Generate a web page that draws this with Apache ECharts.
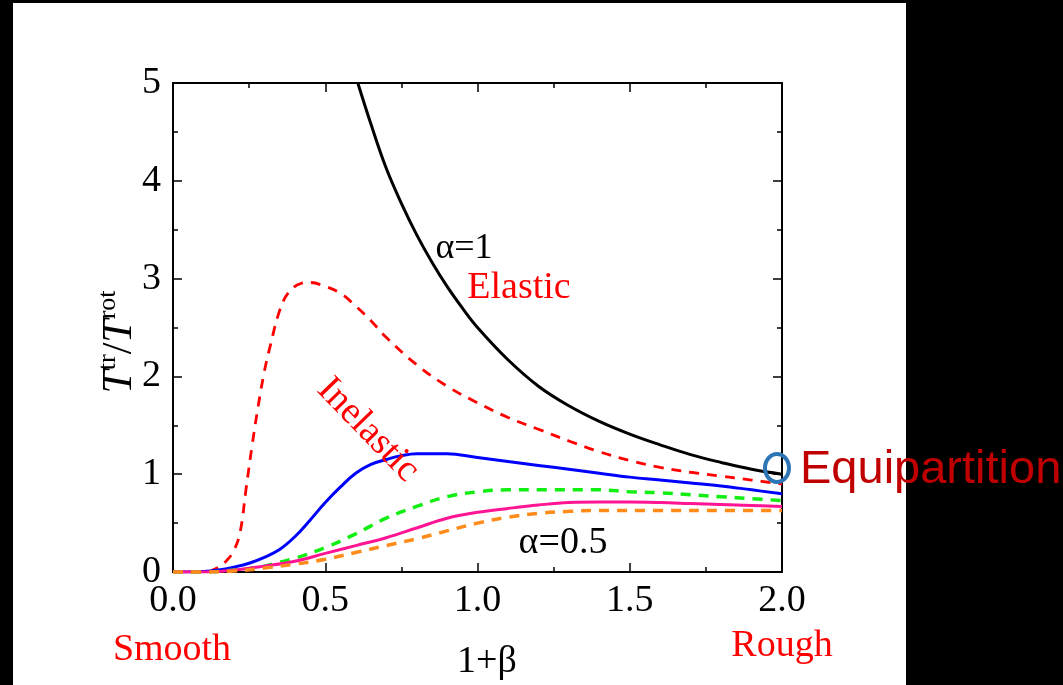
<!DOCTYPE html>
<html>
<head>
<meta charset="utf-8">
<script src="https://cdn.jsdelivr.net/npm/echarts@6/dist/echarts.min.js"></script>
<style>
html,body{margin:0;padding:0;background:#000;}
#chart{width:1063px;height:685px;}
</style>
</head>
<body>
<div id="chart"></div>
<script>
// ---- data ----
const xTicks = [0, 0.5, 1.0, 1.5, 2.0];
const yTicks = [0, 1, 2, 3, 4, 5];

const blackX = [0.607, 0.65, 0.70, 0.75, 0.80, 0.85, 0.90, 0.95, 1.00, 1.10, 1.20, 1.30, 1.40, 1.50, 1.60, 1.70, 1.80, 1.90, 2.00];
const blackY = [5.00, 4.58, 4.13, 3.77, 3.45, 3.17, 2.92, 2.70, 2.50, 2.17, 1.90, 1.70, 1.54, 1.41, 1.30, 1.20, 1.12, 1.05, 1.00];

const redX = [0.00, 0.10, 0.15, 0.18, 0.20, 0.22, 0.24, 0.26, 0.28, 0.30, 0.32, 0.35, 0.38, 0.42, 0.45, 0.50, 0.55, 0.60, 0.65, 0.70, 0.80, 0.90, 1.00, 1.10, 1.20, 1.30, 1.40, 1.50, 1.60, 1.70, 1.80, 1.90, 2.00];
const redY = [0.00, 0.00, 0.05, 0.13, 0.22, 0.40, 0.85, 1.30, 1.70, 2.05, 2.32, 2.67, 2.86, 2.95, 2.96, 2.92, 2.85, 2.72, 2.57, 2.40, 2.12, 1.90, 1.73, 1.58, 1.46, 1.34, 1.23, 1.14, 1.07, 1.02, 0.98, 0.94, 0.90];

const blueX = [0.00, 0.10, 0.15, 0.20, 0.25, 0.30, 0.35, 0.40, 0.45, 0.50, 0.55, 0.60, 0.65, 0.70, 0.75, 0.80, 0.90, 1.00, 1.10, 1.20, 1.30, 1.40, 1.50, 1.60, 1.70, 1.80, 1.90, 2.00];
const blueY = [0.00, 0.005, 0.02, 0.05, 0.09, 0.15, 0.23, 0.36, 0.53, 0.71, 0.87, 1.01, 1.10, 1.15, 1.19, 1.21, 1.21, 1.17, 1.13, 1.09, 1.05, 1.01, 0.97, 0.94, 0.91, 0.88, 0.84, 0.80];

const greenX = [0.00, 0.10, 0.20, 0.30, 0.35, 0.40, 0.50, 0.60, 0.70, 0.80, 0.90, 1.00, 1.10, 1.20, 1.40, 1.50, 1.60, 1.70, 1.80, 1.90, 2.00];
const greenY = [0.00, 0.00, 0.02, 0.06, 0.10, 0.14, 0.25, 0.39, 0.55, 0.67, 0.77, 0.82, 0.84, 0.84, 0.84, 0.82, 0.81, 0.79, 0.77, 0.75, 0.73];

const pinkX = [0.00, 0.10, 0.20, 0.30, 0.40, 0.50, 0.60, 0.70, 0.80, 0.90, 1.00, 1.10, 1.20, 1.30, 1.40, 1.50, 1.60, 1.70, 1.80, 1.90, 2.00];
const pinkY = [0.00, 0.00, 0.02, 0.06, 0.11, 0.19, 0.27, 0.35, 0.45, 0.55, 0.61, 0.65, 0.685, 0.71, 0.715, 0.715, 0.71, 0.70, 0.69, 0.68, 0.67];

const orangeX = [0.00, 0.10, 0.20, 0.30, 0.40, 0.50, 0.60, 0.70, 0.80, 0.90, 1.00, 1.10, 1.20, 1.30, 1.40, 1.60, 1.80, 2.00];
const orangeY = [0.00, 0.00, 0.01, 0.04, 0.08, 0.13, 0.20, 0.27, 0.34, 0.42, 0.50, 0.56, 0.60, 0.62, 0.63, 0.63, 0.63, 0.63];

// ---- build ----
function pairs(xs, ys) { return xs.map((x, i) => [x, ys[i]]); }

const SERIF = '"Liberation Serif", "Times New Roman", serif';
const SANS = '"Liberation Sans", Arial, sans-serif';

function lineSeries(name, xs, ys, color, type, width) {
  return {
    name: name, type: 'line', data: pairs(xs, ys),
    showSymbol: false, smooth: 0.4, clip: true,
    lineStyle: { color: color, width: width, type: type },
    z: 3
  };
}

function axisCommon(showLabel, isX) {
  return {
    type: 'value',
    min: 0,
    max: isX ? 2 : 5,
    interval: isX ? 0.5 : 1,
    minorTick: { show: true, splitNumber: 2, length: 5, lineStyle: { color: '#000', width: 1.5 } },
    axisTick: { show: true, inside: true, length: 9, lineStyle: { color: '#000', width: 1.5 } },
    axisLine: { show: true, onZero: false, lineStyle: { color: '#000', width: 2 } },
    splitLine: { show: false },
    minorSplitLine: { show: false },
    axisLabel: {
      show: showLabel,
      fontFamily: SERIF, fontSize: 38, color: '#000', margin: isX ? 10 : 12,
      formatter: isX ? (v => v.toFixed(1)) : (v => String(v))
    }
  };
}

const chart = echarts.init(document.getElementById('chart'));
chart.setOption({
  backgroundColor: '#000',
  animation: false,
  grid: { left: 173, right: 281, top: 83, bottom: 113, containLabel: false },
  xAxis: [
    Object.assign(axisCommon(true, true), { position: 'bottom' }),
    Object.assign(axisCommon(false, true), { position: 'top' })
  ],
  yAxis: [
    Object.assign(axisCommon(true, false), { position: 'left' }),
    Object.assign(axisCommon(false, false), { position: 'right' })
  ],
  series: [
    lineSeries('alpha=1', blackX, blackY, '#000000', 'solid', 3),
    lineSeries('red', redX, redY, '#ff0000', [10, 8], 2.8),
    lineSeries('blue', blueX, blueY, '#0000ff', 'solid', 3),
    lineSeries('green', greenX, greenY, '#11ee11', [10, 8], 3.5),
    lineSeries('pink', pinkX, pinkY, '#ff1493', 'solid', 3),
    lineSeries('orange', orangeX, orangeY, '#ff8c1a', [10, 8], 3.5)
  ],
  graphic: [
    { type: 'rect', z: -10, silent: true, shape: { x: 13, y: 3, width: 893, height: 682 }, style: { fill: '#fff' } },
    { type: 'text', x: 118, y: 342, rotation: Math.PI / 2, z: 10,
      style: {
        text: '{i|T}{s|tr}{n|/}{i|T}{s|rot}',
        align: 'center', verticalAlign: 'middle',
        rich: {
          i: { fontFamily: SERIF, fontStyle: 'italic', fontSize: 42, lineHeight: 46, verticalAlign: 'bottom', fill: '#000' },
          n: { fontFamily: SERIF, fontSize: 42, lineHeight: 46, verticalAlign: 'bottom', fill: '#000' },
          s: { fontFamily: SERIF, fontSize: 26, lineHeight: 46, verticalAlign: 'top', fill: '#000', padding: [0, 0, 16, 0] }
        }
      } },
    { type: 'text', x: 487, y: 662, z: 10, style: { text: '1+β', font: '38px ' + SERIF, fill: '#000', align: 'center', verticalAlign: 'middle' } },
    { type: 'text', x: 464, y: 249, z: 10, style: { text: 'α=1', font: '36px ' + SERIF, fill: '#000', align: 'center', verticalAlign: 'middle' } },
    { type: 'text', x: 519, y: 288, z: 10, style: { text: 'Elastic', font: '38px ' + SERIF, fill: '#ff0000', align: 'center', verticalAlign: 'middle' } },
    { type: 'text', x: 368, y: 430, rotation: -0.8, z: 10, style: { text: 'Inelastic', font: '38px ' + SERIF, fill: '#ff0000', align: 'center', verticalAlign: 'middle' } },
    { type: 'text', x: 563, y: 543, z: 10, style: { text: 'α=0.5', font: '38px ' + SERIF, fill: '#000', align: 'center', verticalAlign: 'middle' } },
    { type: 'text', x: 172, y: 650, z: 10, style: { text: 'Smooth', font: '38px ' + SERIF, fill: '#ff0000', align: 'center', verticalAlign: 'middle' } },
    { type: 'text', x: 782, y: 646, z: 10, style: { text: 'Rough', font: '38px ' + SERIF, fill: '#ff0000', align: 'center', verticalAlign: 'middle' } },
    { type: 'ellipse', z: 10, shape: { cx: 777, cy: 468, rx: 12, ry: 14 }, style: { fill: 'none', stroke: '#2e75b6', lineWidth: 4 } },
    { type: 'text', x: 800, y: 470, z: 10, style: { text: 'Equipartition', font: '47px ' + SANS, fill: '#c00000', align: 'left', verticalAlign: 'middle' } }
  ]
});
</script>
</body>
</html>
